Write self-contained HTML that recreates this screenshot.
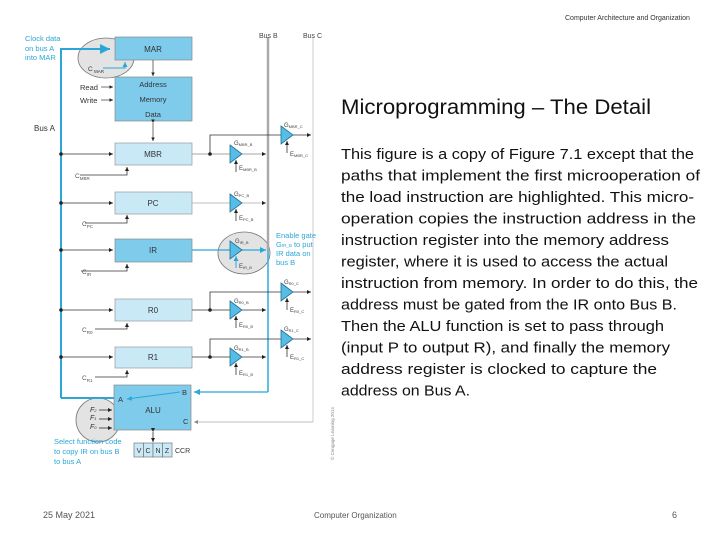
<!DOCTYPE html>
<html><head><meta charset="utf-8"><style>
html,body{margin:0;padding:0;background:#fff;}
svg{display:block;}
text{font-family:"Liberation Sans",sans-serif;}
</style></head><body>
<svg width="720" height="540" viewBox="0 0 720 540" xmlns="http://www.w3.org/2000/svg">
<defs>
<marker id="ak" markerWidth="6" markerHeight="6" refX="5" refY="3" orient="auto"><path d="M0,0.5 L5,3 L0,5.5 z" fill="#222"/></marker>
<marker id="ab" markerWidth="6" markerHeight="6" refX="5" refY="3" orient="auto"><path d="M0,0.5 L5,3 L0,5.5 z" fill="#2aa7d8"/></marker>
<marker id="ag" markerWidth="6" markerHeight="6" refX="5" refY="3" orient="auto"><path d="M0,0.5 L5,3 L0,5.5 z" fill="#888"/></marker>
</defs>
<text x="565" y="20" font-size="7" fill="#333">Computer Architecture and Organization</text>

<!-- ellipses -->
<ellipse cx="106" cy="58" rx="28" ry="20" fill="#e3e3e3" stroke="#777" stroke-width="0.8"/>
<ellipse cx="244" cy="253" rx="26" ry="21" fill="#e3e3e3" stroke="#777" stroke-width="0.8"/>
<ellipse cx="98" cy="420" rx="22" ry="22" fill="#e3e3e3" stroke="#777" stroke-width="0.8"/>

<!-- buses -->
<line x1="268" y1="37" x2="268" y2="250" stroke="#aaa" stroke-width="2.5"/>
<line x1="268" y1="250" x2="268" y2="392" stroke="#3bb1e0" stroke-width="1.6"/>
<line x1="313" y1="37" x2="313" y2="422" stroke="#ccc" stroke-width="1"/>
<text x="259" y="38" font-size="7" fill="#444">Bus B</text>
<text x="303" y="38" font-size="7" fill="#444">Bus C</text>
<path d="M61,398 V49 H110" fill="none" stroke="#2aa7d8" stroke-width="2" marker-end="url(#ab)"/>
<path d="M61,398 H114" fill="none" stroke="#2aa7d8" stroke-width="2"/>
<text x="34" y="131" font-size="8" fill="#333">Bus A</text>
<text x="25" y="41" font-size="7.5" fill="#2aa7d8">Clock data</text>
<text x="25" y="51" font-size="7.5" fill="#2aa7d8">on bus A</text>
<text x="25" y="60" font-size="7.5" fill="#2aa7d8">into MAR</text>

<!-- boxes -->
<rect x="115" y="37" width="77" height="23" fill="#7fcbec" stroke="#888" stroke-width="0.7"/>
<text x="153" y="52" font-size="8" text-anchor="middle" fill="#333">MAR</text>
<text x="88" y="71" font-size="6.5" fill="#333">C</text><text x="94" y="73" font-size="4.5" fill="#333">MAR</text>
<path d="M103,68 H125 V62" fill="none" stroke="#2aa7d8" stroke-width="1" marker-end="url(#ab)"/>
<line x1="153" y1="60" x2="153" y2="76" stroke="#333" stroke-width="0.7" marker-end="url(#ak)"/>
<rect x="115" y="77" width="77" height="44" fill="#7fcbec" stroke="#888" stroke-width="0.7"/>
<text x="153" y="87" font-size="7.5" text-anchor="middle" fill="#333">Address</text>
<text x="153" y="102" font-size="7.5" text-anchor="middle" fill="#333">Memory</text>
<text x="153" y="117" font-size="7.5" text-anchor="middle" fill="#333">Data</text>
<text x="80" y="90" font-size="7.5" fill="#333">Read</text>
<text x="80" y="103" font-size="7.5" fill="#333">Write</text>
<line x1="101" y1="87" x2="113" y2="87" stroke="#333" stroke-width="0.7" marker-end="url(#ak)"/>
<line x1="101" y1="100" x2="113" y2="100" stroke="#333" stroke-width="0.7" marker-end="url(#ak)"/>
<line x1="153" y1="123" x2="153" y2="141" stroke="#333" stroke-width="0.7" marker-end="url(#ak)" marker-start="url(#ak)"/>

<g stroke="#333" stroke-width="0.8" fill="none">
<line x1="61" y1="154" x2="113" y2="154" marker-end="url(#ak)"/>
<line x1="61" y1="203" x2="113" y2="203" marker-end="url(#ak)"/>
<line x1="61" y1="250" x2="113" y2="250" marker-end="url(#ak)"/>
<line x1="61" y1="310" x2="113" y2="310" marker-end="url(#ak)"/>
<line x1="61" y1="357" x2="113" y2="357" marker-end="url(#ak)"/>
<path d="M80,175 H127 V167" marker-end="url(#ak)"/>
<path d="M85,223 H127 V215" marker-end="url(#ak)"/>
<path d="M81,271 H127 V264" marker-end="url(#ak)"/>
<path d="M95,329 H127 V323" marker-end="url(#ak)"/>
<path d="M95,377 H127 V370" marker-end="url(#ak)"/>
</g>
<g fill="#222"><circle cx="61" cy="154" r="1.8"/><circle cx="61" cy="203" r="1.8"/><circle cx="61" cy="250" r="1.8"/><circle cx="61" cy="310" r="1.8"/><circle cx="61" cy="357" r="1.8"/></g>
<g font-size="6.5" fill="#555">
<text x="75" y="178">C<tspan font-size="4.5" dy="2">MBR</tspan></text>
<text x="82" y="226">C<tspan font-size="4.5" dy="2">PC</tspan></text>
<text x="82" y="274">C<tspan font-size="4.5" dy="2">IR</tspan></text>
<text x="82" y="332">C<tspan font-size="4.5" dy="2">R0</tspan></text>
<text x="82" y="380">C<tspan font-size="4.5" dy="2">R1</tspan></text>
</g>

<rect x="115" y="143" width="77" height="22" fill="#c9e9f7" stroke="#999" stroke-width="0.7"/>
<text x="153" y="157" font-size="8" text-anchor="middle" fill="#333">MBR</text>
<rect x="115" y="192" width="77" height="22" fill="#c9e9f7" stroke="#999" stroke-width="0.7"/>
<text x="153" y="206" font-size="8" text-anchor="middle" fill="#333">PC</text>
<rect x="115" y="239" width="77" height="23" fill="#7fcbec" stroke="#888" stroke-width="0.7"/>
<text x="153" y="253" font-size="8" text-anchor="middle" fill="#333">IR</text>
<rect x="115" y="299" width="77" height="22" fill="#c9e9f7" stroke="#999" stroke-width="0.7"/>
<text x="153" y="313" font-size="8" text-anchor="middle" fill="#333">R0</text>
<rect x="115" y="347" width="77" height="21" fill="#c9e9f7" stroke="#999" stroke-width="0.7"/>
<text x="153" y="360" font-size="8" text-anchor="middle" fill="#333">R1</text>

<!-- outputs -->
<g stroke="#333" stroke-width="0.8" fill="none">
<line x1="192" y1="154" x2="266" y2="154" stroke="#888" marker-end="url(#ak)"/>
<path d="M210,154 V135 H311" marker-end="url(#ak)"/>
<line x1="192" y1="203" x2="266" y2="203" stroke="#aaa" marker-end="url(#ak)"/>
<line x1="192" y1="310" x2="266" y2="310" marker-end="url(#ak)"/>
<path d="M210,310 V292 H311" marker-end="url(#ak)"/>
<line x1="192" y1="357" x2="266" y2="357" marker-end="url(#ak)"/>
<path d="M210,357 V339 H311" marker-end="url(#ak)"/>
</g>
<line x1="192" y1="250" x2="266" y2="250" stroke="#2aa7d8" stroke-width="1.2" marker-end="url(#ab)"/>
<g fill="#222"><circle cx="210" cy="154" r="1.8"/><circle cx="210" cy="310" r="1.8"/><circle cx="210" cy="357" r="1.8"/></g>

<!-- gates -->
<g fill="#55bde6" stroke="#1e6f94" stroke-width="0.8">
<polygon points="230,145 242,154 230,163"/>
<polygon points="230,194 242,203 230,212"/>
<polygon points="230,241 242,250 230,259"/>
<polygon points="230,301 242,310 230,319"/>
<polygon points="230,348 242,357 230,366"/>
<polygon points="281,126 293,135 281,144"/>
<polygon points="281,283 293,292 281,301"/>
<polygon points="281,330 293,339 281,348"/>
</g>
<g stroke="#333" stroke-width="0.8">
<line x1="236" y1="172" x2="236" y2="160" marker-end="url(#ak)"/>
<line x1="236" y1="221" x2="236" y2="209" marker-end="url(#ak)"/>
<line x1="236" y1="328" x2="236" y2="316" marker-end="url(#ak)"/>
<line x1="236" y1="375" x2="236" y2="363" marker-end="url(#ak)"/>
<line x1="287" y1="153" x2="287" y2="141" marker-end="url(#ak)"/>
<line x1="287" y1="310" x2="287" y2="298" marker-end="url(#ak)"/>
<line x1="287" y1="357" x2="287" y2="345" marker-end="url(#ak)"/>
</g>
<line x1="236" y1="268" x2="236" y2="256" stroke="#2aa7d8" stroke-width="1" marker-end="url(#ab)"/>
<g font-size="6" fill="#444">
<text x="234" y="145">G<tspan font-size="4" dy="1">MBR_B</tspan></text>
<text x="239" y="170">E<tspan font-size="4" dy="1">MBR_B</tspan></text>
<text x="234" y="196">G<tspan font-size="4" dy="1">PC_B</tspan></text>
<text x="239" y="220">E<tspan font-size="4" dy="1">PC_B</tspan></text>
<text x="235" y="243">G<tspan font-size="4" dy="1">IR_B</tspan></text>
<text x="239" y="268">E<tspan font-size="4" dy="1">IR_B</tspan></text>
<text x="234" y="303">G<tspan font-size="4" dy="1">R0_B</tspan></text>
<text x="239" y="327">E<tspan font-size="4" dy="1">R0_B</tspan></text>
<text x="234" y="350">G<tspan font-size="4" dy="1">R1_B</tspan></text>
<text x="239" y="375">E<tspan font-size="4" dy="1">R1_B</tspan></text>
<text x="284" y="127">G<tspan font-size="4" dy="1">MBR_C</tspan></text>
<text x="290" y="156">E<tspan font-size="4" dy="1">MBR_C</tspan></text>
<text x="284" y="284">G<tspan font-size="4" dy="1">R0_C</tspan></text>
<text x="290" y="312">E<tspan font-size="4" dy="1">R0_C</tspan></text>
<text x="284" y="331">G<tspan font-size="4" dy="1">R1_C</tspan></text>
<text x="290" y="359">E<tspan font-size="4" dy="1">R1_C</tspan></text>
</g>
<g font-size="7.5" fill="#2aa7d8">
<text x="276" y="238">Enable gate</text>
<text x="276" y="247">G<tspan font-size="4.5">IR_B</tspan> to put</text>
<text x="276" y="256">IR data on</text>
<text x="276" y="265">bus B</text>
</g>

<!-- ALU -->
<rect x="114" y="385" width="77" height="45" fill="#7fcbec" stroke="#888" stroke-width="0.7"/>
<text x="153" y="413" font-size="8" text-anchor="middle" fill="#333">ALU</text>
<text x="118" y="402" font-size="7.5" fill="#333">A</text>
<text x="182" y="395" font-size="7.5" fill="#333">B</text>
<text x="183" y="424" font-size="7.5" fill="#333">C</text>
<path d="M268,392 H194" fill="none" stroke="#2aa7d8" stroke-width="1.2" marker-end="url(#ab)"/>
<line x1="180" y1="392" x2="127" y2="399" stroke="#2aa7d8" stroke-width="1" marker-end="url(#ab)"/>
<path d="M313,422 H194" fill="none" stroke="#aaa" stroke-width="0.8" marker-end="url(#ag)"/>
<g font-size="7" fill="#333" font-style="italic">
<text x="90" y="412">F<tspan font-size="4">2</tspan></text>
<text x="90" y="420">F<tspan font-size="4">1</tspan></text>
<text x="90" y="429">F<tspan font-size="4">0</tspan></text>
</g>
<g stroke="#333" stroke-width="0.8">
<line x1="99" y1="410" x2="112" y2="410" marker-end="url(#ak)"/>
<line x1="99" y1="419" x2="112" y2="419" marker-end="url(#ak)"/>
<line x1="99" y1="428" x2="112" y2="428" marker-end="url(#ak)"/>
<line x1="153" y1="432" x2="153" y2="442" marker-end="url(#ak)" marker-start="url(#ak)"/>
</g>
<g stroke="#777" stroke-width="0.7" fill="#c9e9f7">
<rect x="134" y="443" width="9.5" height="14"/><rect x="143.5" y="443" width="9.5" height="14"/><rect x="153" y="443" width="9.5" height="14"/><rect x="162.5" y="443" width="9.5" height="14"/>
</g>
<g font-size="7" fill="#333" text-anchor="middle">
<text x="139" y="453">V</text><text x="148" y="453">C</text><text x="158" y="453">N</text><text x="167" y="453">Z</text>
</g>
<text x="175" y="453" font-size="7" fill="#333">CCR</text>
<g font-size="7.5" fill="#2aa7d8">
<text x="54" y="444">Select function code</text>
<text x="54" y="454">to copy IR on bus B</text>
<text x="54" y="464">to bus A</text>
</g>
<text transform="translate(334,460) rotate(-90)" font-size="4.5" fill="#888">© Cengage Learning 2014</text>

<!-- right text -->
<text x="341" y="114" font-size="21.5" fill="#111" textLength="310" lengthAdjust="spacingAndGlyphs">Microprogramming – The Detail</text>
<g font-size="14.5" fill="#111">
<text x="341" y="159" textLength="353" lengthAdjust="spacingAndGlyphs">This figure is a copy of Figure 7.1 except that the</text>
<text x="341" y="180.5" textLength="359" lengthAdjust="spacingAndGlyphs">paths that implement the first microoperation of</text>
<text x="341" y="202" textLength="353" lengthAdjust="spacingAndGlyphs">the load instruction are highlighted. This micro-</text>
<text x="341" y="223.5" textLength="355" lengthAdjust="spacingAndGlyphs">operation copies the instruction address in the</text>
<text x="341" y="245" textLength="328" lengthAdjust="spacingAndGlyphs">instruction register into the memory address</text>
<text x="341" y="266.5" textLength="327" lengthAdjust="spacingAndGlyphs">register, where it is used to access the actual</text>
<text x="341" y="288" textLength="357" lengthAdjust="spacingAndGlyphs">instruction from memory. In order to do this, the</text>
<text x="341" y="309.5" textLength="336" lengthAdjust="spacingAndGlyphs">address must be gated from the IR onto Bus B.</text>
<text x="341" y="331" textLength="323" lengthAdjust="spacingAndGlyphs">Then the ALU function is set to pass through</text>
<text x="341" y="352.5" textLength="329" lengthAdjust="spacingAndGlyphs">(input P to output R), and finally the memory</text>
<text x="341" y="374" textLength="316" lengthAdjust="spacingAndGlyphs">address register is clocked to capture the</text>
<text x="341" y="395.5" textLength="129" lengthAdjust="spacingAndGlyphs">address on Bus A.</text>
</g>

<text x="43" y="518" font-size="9" fill="#555">25 May 2021</text>
<text x="314" y="518" font-size="8" fill="#555">Computer Organization</text>
<text x="672" y="518" font-size="9" fill="#555">6</text>
</svg>
</body></html>
